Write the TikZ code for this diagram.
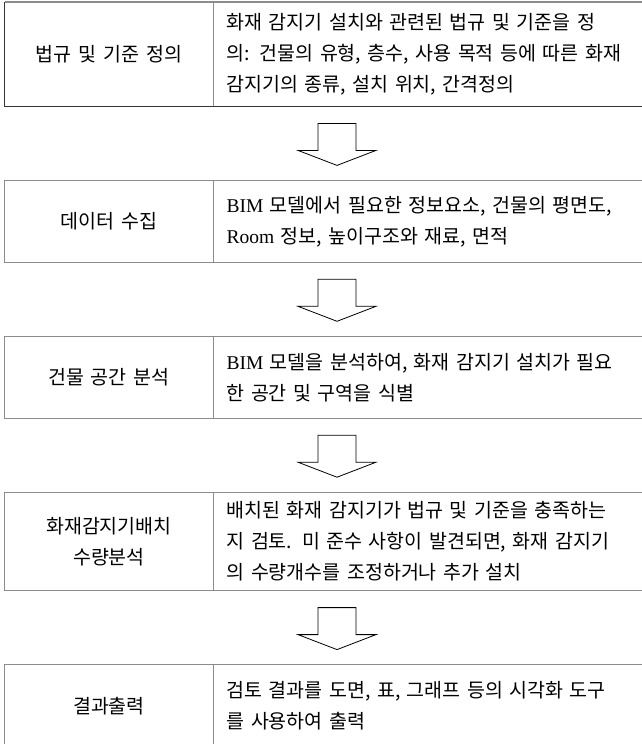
\documentclass[tikz,border=0pt]{standalone}
\usepackage{fontspec}
\setmainfont{Noto Sans CJK KR}
\newfontfamily\lat{Liberation Serif}
\usetikzlibrary{calc}
\newcommand\fl[1]{\makebox[406pt][s]{#1}}
\newcommand\txtfont{\fontsize{19.5}{31}\selectfont\spaceskip=7pt plus 30pt minus 3pt\relax}
\begin{document}
\begin{tikzpicture}[x=1pt,y=-1pt,
  cell/.style={anchor=north west, minimum width=208.5pt, inner sep=0pt, align=center,
    font=\txtfont},
  desc/.style={anchor=north west, text width=406pt, inner xsep=13pt, inner ysep=0pt, align=left,
    font=\txtfont},
  gbord/.style={draw=black!45, line width=1.3pt},
  dbord/.style={draw=black!80, line width=1.6pt},
  pics/downarrow/.style={code={
    \draw[line width=0.8pt, fill=white] (-19,0) -- (19,0) -- (19,27) -- (39,27) -- (0,42)
      -- (-39,27) -- (-19,27) -- cycle;}}
]
\useasboundingbox (0,0) rectangle (642,744);
\coordinate (ax) at (337,0);

% box 1
\node[cell, minimum height=104pt] (l1) at (4.5,2) {법규 및 기준 정의};
\node[desc, minimum height=104pt] (r1) at (l1.north east)
  {\fl{화재 감지기 설치와 관련된 법규 및 기준을 정}\\
   \fl{의: 건물의 유형, 층수, 사용 목적 등에 따른 화재}\\
   감지기의 종류, 설치 위치, 간격정의};
\draw[gbord] (r1.north east) -- (l1.north west);
\draw[dbord] (l1.north west) -- (l1.south west) -- (r1.south east);
\draw[gbord] (l1.north east) -- (l1.south east);

% box 2
\node[cell, minimum height=81.5pt] (l2) at ($(l1.south west)+(0,74)$) {데이터 수집};
\node[desc, minimum height=81.5pt] (r2) at (l2.north east)
  {\fl{{\lat BIM} 모델에서 필요한 정보요소, 건물의 평면도,}\\
   {\lat Room} 정보, 높이구조와 재료, 면적};
\draw[gbord] (r2.north east) -- (l2.north west) -- (l2.south west) -- (r2.south east);
\draw[gbord] (l2.north east) -- (l2.south east);

% box 3
\node[cell, minimum height=81.5pt] (l3) at ($(l2.south west)+(0,74)$) {건물 공간 분석};
\node[desc, minimum height=81.5pt] (r3) at (l3.north east)
  {\fl{{\lat BIM} 모델을 분석하여, 화재 감지기 설치가 필요}\\
   한 공간 및 구역을 식별};
\draw[gbord] (r3.north east) -- (l3.north west) -- (l3.south west) -- (r3.south east);
\draw[gbord] (l3.north east) -- (l3.south east);

% box 4
\node[cell, minimum height=98pt] (l4) at ($(l3.south west)+(0,74)$) {화재감지기배치\\수량분석};
\node[desc, minimum height=98pt] (r4) at (l4.north east)
  {\fl{배치된 화재 감지기가 법규 및 기준을 충족하는}\\
   \fl{지 검토. 미 준수 사항이 발견되면, 화재 감지기}\\
   의 수량개수를 조정하거나 추가 설치};
\draw[gbord] (r4.north east) -- (l4.north west) -- (l4.south west) -- (r4.south east);
\draw[gbord] (l4.north east) -- (l4.south east);

% box 5
\node[cell, minimum height=82pt] (l5) at ($(l4.south west)+(0,74)$) {결과출력};
\node[desc, minimum height=82pt] (r5) at (l5.north east)
  {\fl{검토 결과를 도면, 표, 그래프 등의 시각화 도구}\\
   를 사용하여 출력};
\draw[gbord] (r5.north east) -- (l5.north west) -- (l5.south west) -- (r5.south east);
\draw[gbord] (l5.north east) -- (l5.south east);

% arrows
\pic at ($(l1.south -| ax)+(0,17)$) {downarrow};
\pic at ($(l2.south -| ax)+(0,17)$) {downarrow};
\pic at ($(l3.south -| ax)+(0,17)$) {downarrow};
\pic at ($(l4.south -| ax)+(0,17)$) {downarrow};
\end{tikzpicture}
\end{document}
